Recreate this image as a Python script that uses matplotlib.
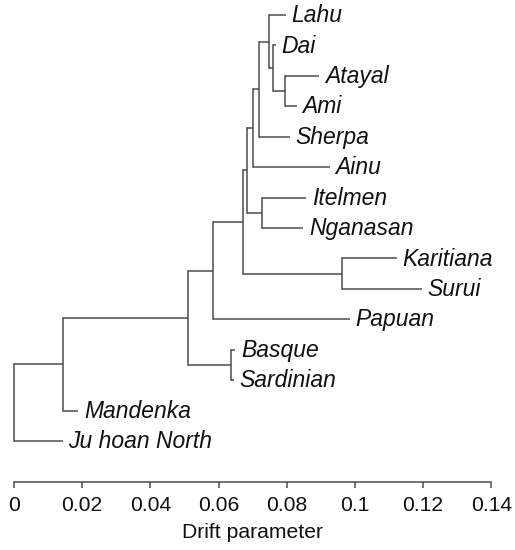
import matplotlib
matplotlib.use('Agg')
import matplotlib.pyplot as plt

plt.rcParams['font.family'] = ['Liberation Sans', 'DejaVu Sans']

# tree: node name, parent, drift position (x)
node_names = ["root", "afr", "ooa", "eur", "nonafr", "eas_am", "amer", "eas",
              "sib", "p4", "p3", "p2", "p1", "tw",
              "Lahu", "Dai", "Atayal", "Ami", "Sherpa", "Ainu", "Itelmen",
              "Nganasan", "Karitiana", "Surui", "Papuan", "Basque",
              "Sardinian", "Mandenka", "Ju hoan North"]
node_parent = [None, "root", "afr", "ooa", "ooa", "nonafr", "eas_am", "eas_am",
               "eas", "eas", "p4", "p3", "p2", "p1",
               "p2", "p1", "tw", "tw", "p3", "p4", "sib",
               "sib", "amer", "amer", "nonafr", "eur",
               "eur", "afr", "root"]
node_drift = [0.0, 0.0145, 0.0511, 0.0636, 0.0583, 0.0673, 0.0961, 0.0683,
              0.0727, 0.0700, 0.0720, 0.0749, 0.0761, 0.0795,
              0.0798, 0.0769, 0.0896, 0.0829, 0.0810, 0.0927, 0.0857,
              0.0849, 0.1123, 0.1196, 0.0986, 0.0649,
              0.0645, 0.0189, 0.0143]
# leaf order top to bottom
leaf_order = ["Lahu", "Dai", "Atayal", "Ami", "Sherpa", "Ainu", "Itelmen",
              "Nganasan", "Karitiana", "Surui", "Papuan", "Basque",
              "Sardinian", "Mandenka", "Ju hoan North"]
xticks = [0, 0.02, 0.04, 0.06, 0.08, 0.10, 0.12, 0.14]
xtick_labels = ["0", "0.02", "0.04", "0.06", "0.08", "0.1", "0.12", "0.14"]

xpos = dict(zip(node_names, node_drift))
parent = dict(zip(node_names, node_parent))
children = {n: [] for n in node_names}
for n, p in parent.items():
    if p is not None:
        children[p].append(n)

ypos = {}
def place(n):
    if not children[n]:
        ypos[n] = leaf_order.index(n)
    else:
        ys = [place(c) for c in children[n]]
        ypos[n] = (min(ys) + max(ys)) / 2
    return ypos[n]
place("root")

fig = plt.figure(figsize=(5.15, 5.5), dpi=100)
ax = fig.add_axes([14 / 515, 68 / 550, (491.3 - 14) / 515, 482 / 550])

lc = '#4d4d4d'
lw = 1.1
for n in node_names:
    p = parent[n]
    if p is not None:
        ax.plot([xpos[p], xpos[n]], [ypos[n], ypos[n]], color=lc, lw=lw,
                solid_capstyle='butt', clip_on=False)
    if children[n]:
        ys = [ypos[c] for c in children[n]]
        ax.plot([xpos[n], xpos[n]], [min(ys), max(ys)], color=lc, lw=lw,
                solid_capstyle='projecting', clip_on=False)

for leaf in leaf_order:
    ax.annotate(leaf, (xpos[leaf], ypos[leaf]), xytext=(4, -0.5),
                textcoords='offset points', va='center', ha='left',
                fontsize=16.5, style='italic', color='#111111')

ax.set_xlim(0, 0.14)
ax.set_ylim(15.35, -0.493)
for s in ['top', 'right', 'left']:
    ax.spines[s].set_visible(False)
ax.spines['bottom'].set_color(lc)
ax.spines['bottom'].set_linewidth(lw)
ax.set_yticks([])
ax.set_xticks(xticks)
ax.set_xticklabels(xtick_labels)
ax.tick_params(axis='x', direction='out', length=4.5, width=lw, color=lc,
               labelsize=15.2, pad=5.5, labelcolor='#111111')
ax.set_xlabel("Drift parameter", fontsize=15.2, labelpad=6, color='#111111')
ax.patch.set_visible(False)

fig.savefig("out.png", dpi=100)
plt.close(fig)
